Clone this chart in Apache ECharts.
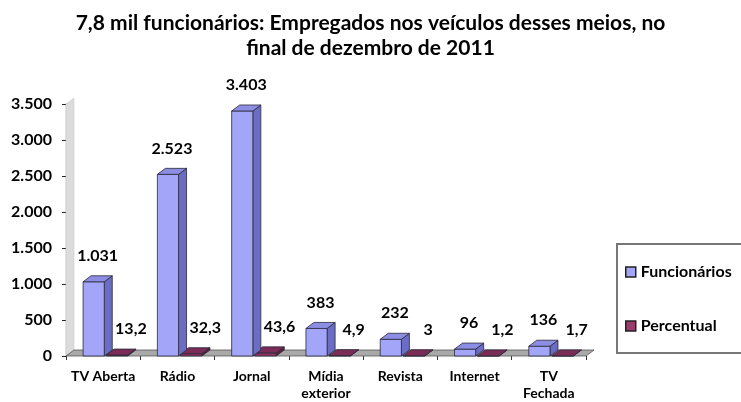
<!DOCTYPE html>
<html>
<head>
<meta charset="utf-8">
<script src="https://cdn.jsdelivr.net/npm/echarts@6/dist/echarts.min.js"></script>
<style>
  html, body { margin: 0; padding: 0; background: #fff; }
  #chart { width: 741px; height: 402px; }
</style>
</head>
<body>
<div id="chart"></div>
<script>
var categories = ['TV Aberta', 'Rádio', 'Jornal', 'Mídia\nexterior', 'Revista', 'Internet', 'TV\nFechada'];
var funcionarios = [1031, 2523, 3403, 383, 232, 96, 136];
var percentual = [13.2, 32.3, 43.6, 4.9, 3, 1.2, 1.7];
var yTicks = [0, 500, 1000, 1500, 2000, 2500, 3000, 3500];

var DX = 8, DY = -6;
var FONT = 'Lato, "Open Sans", sans-serif';

function fmtThousands(v) {
    return String(v).replace(/\B(?=(\d{3})+(?!\d))/g, '.');
}
function fmtDecimal(v) {
    return String(v).replace('.', ',');
}

// draws one 3D box (front, side, top) plus its value label
function box3d(colors, startFrac, widthFrac, labelShift, fmt) {
    return function (params, api) {
        var cat = api.value(0), v = api.value(1);
        var base = api.coord([cat, 0]);
        var top = api.coord([cat, v]);
        var bw = api.size([1, 0])[0];
        var w = bw * widthFrac;
        var x0 = base[0] + bw * startFrac;
        var yb = base[1], yt = top[1];
        var stroke = { stroke: '#2a2a3a', lineWidth: 0.8 };
        return {
            type: 'group',
            children: [
                {
                    type: 'polygon',
                    shape: { points: [[x0 + w, yt], [x0 + w + DX, yt + DY], [x0 + w + DX, yb + DY], [x0 + w, yb]] },
                    style: Object.assign({ fill: colors.side }, stroke)
                },
                {
                    type: 'rect',
                    shape: { x: x0, y: yt, width: w, height: yb - yt },
                    style: Object.assign({ fill: colors.front }, stroke)
                },
                {
                    type: 'polygon',
                    shape: { points: [[x0, yt], [x0 + DX, yt + DY], [x0 + w + DX, yt + DY], [x0 + w, yt]] },
                    style: Object.assign({ fill: colors.top }, stroke)
                },
                {
                    type: 'text',
                    style: {
                        text: fmt(v),
                        x: x0 + w / 2 + DX / 2 + labelShift,
                        y: yt + DY - 20,
                        align: 'center',
                        verticalAlign: 'middle',
                        fill: '#000',
                        font: 'bold 16px ' + FONT
                    }
                }
            ]
        };
    };
}

// floor and left wall of the 3D box
function renderFrame(params, api) {
    var cs = params.coordSys;
    var x = cs.x, y = cs.y, w = cs.width, h = cs.height;
    var yb = y + h;
    return {
        type: 'group',
        silent: true,
        children: [
            {
                type: 'polygon',
                shape: { points: [[x, y], [x + DX, y + DY], [x + DX, yb + DY], [x, yb]] },
                style: { fill: '#dcdcdc', stroke: '#c4c4c4', lineWidth: 0.5 }
            },
            {
                type: 'polygon',
                shape: { points: [[x, yb], [x + DX, yb + DY], [x + w + DX, yb + DY], [x + w, yb]] },
                style: { fill: '#a9a9a9', stroke: '#555', lineWidth: 0.8 }
            }
        ]
    };
}

var blueColors = { front: '#a2a5f8', side: '#6b6cc3', top: '#8c8ee4' };
var pinkColors = { front: '#8e3262', side: '#5e1f40', top: '#7b2c56' };

var chart = echarts.init(document.getElementById('chart'));
chart.setOption({
    animation: false,
    textStyle: { fontFamily: FONT },
    title: {
        text: '7,8 mil funcionários: Empregados nos veículos desses meios, no\nfinal de dezembro de 2011',
        left: 'center',
        top: 6,
        textStyle: { fontSize: 21, fontWeight: 'bold', color: '#000', lineHeight: 25, fontFamily: FONT }
    },
    legend: {
        orient: 'vertical',
        left: 617,
        top: 244,
        padding: [20, 30, 19, 8],
        itemGap: 38,
        itemWidth: 10,
        itemHeight: 10,
        icon: 'rect',
        borderColor: '#777',
        borderWidth: 2,
        textStyle: { fontSize: 16, fontWeight: 'bold', color: '#000', fontFamily: FONT },
        data: [
            { name: 'Funcionários', itemStyle: { color: '#a2a5f8', borderColor: '#222', borderWidth: 1.5 } },
            { name: 'Percentual', itemStyle: { color: '#9b3b6c', borderColor: '#222', borderWidth: 1.5 } }
        ]
    },
    grid: { left: 66, right: 155, top: 104, bottom: 45 },
    xAxis: {
        type: 'category',
        data: categories,
        axisLine: { show: false },
        axisTick: { show: true, length: 4, lineStyle: { color: '#333' } },
        axisLabel: {
            interval: 0,
            fontSize: 14, fontWeight: 'bold', color: '#000', margin: 12, lineHeight: 17, fontFamily: FONT
        }
    },
    yAxis: {
        type: 'value',
        min: yTicks[0],
        max: yTicks[yTicks.length - 1],
        interval: yTicks[1] - yTicks[0],
        splitLine: { show: false },
        axisLine: { show: true, lineStyle: { color: '#222', width: 1.2 } },
        axisTick: { show: true, length: 4, lineStyle: { color: '#222' } },
        axisLabel: {
            fontSize: 16, fontWeight: 'bold', color: '#000', margin: 14, fontFamily: FONT,
            formatter: function (v) { return fmtThousands(v); }
        }
    },
    series: [
        {
            name: 'frame',
            type: 'custom',
            silent: true,
            z: 1,
            renderItem: renderFrame,
            data: [[0, 0]]
        },
        {
            name: 'Funcionários',
            type: 'custom',
            z: 3,
            itemStyle: { color: '#a2a5f8' },
            renderItem: box3d(blueColors, -0.27, 0.285, 0, fmtThousands),
            data: categories.map(function (c, i) { return [i, funcionarios[i]]; })
        },
        {
            name: 'Percentual',
            type: 'custom',
            z: 2,
            itemStyle: { color: '#9b3b6c' },
            renderItem: box3d(pinkColors, 0.04, 0.29, 10, fmtDecimal),
            data: categories.map(function (c, i) { return [i, percentual[i]]; })
        }
    ]
});
</script>
</body>
</html>
